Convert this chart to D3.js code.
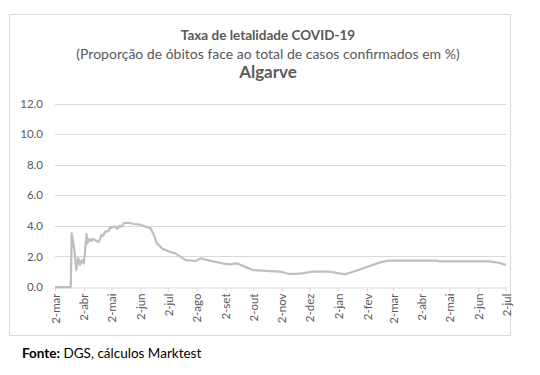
<!DOCTYPE html>
<html>
<head>
<meta charset="utf-8">
<script src="https://cdn.jsdelivr.net/npm/d3@7"></script>
<style>
  body { margin: 0; background: #fff; }
  text { font-family: Lato, "Open Sans", sans-serif; }
</style>
</head>
<body>
<div id="chart"></div>
<script>
// valores (data, taxa %)
const dates = [
  "2020-03-02","2020-03-19","2020-03-20","2020-03-23","2020-03-25","2020-03-27","2020-03-29",
  "2020-03-31","2020-04-02","2020-04-03","2020-04-05","2020-04-06","2020-04-08","2020-04-10",
  "2020-04-12","2020-04-14","2020-04-18","2020-04-20","2020-04-21","2020-04-23","2020-04-25",
  "2020-04-29","2020-04-30","2020-05-04","2020-05-06","2020-05-08","2020-05-11","2020-05-13",
  "2020-05-16","2020-05-21","2020-05-26","2020-06-02","2020-06-10","2020-06-13","2020-06-16",
  "2020-06-20","2020-06-26","2020-07-04","2020-07-10","2020-07-15","2020-07-21","2020-08-01",
  "2020-08-06","2020-08-16","2020-08-30","2020-09-07","2020-09-14","2020-09-23","2020-10-02",
  "2020-10-16","2020-10-31","2020-11-07","2020-11-10","2020-11-21","2020-12-06","2020-12-24",
  "2020-12-31","2021-01-09","2021-01-18","2021-02-01","2021-02-16","2021-02-25","2021-04-19",
  "2021-04-21","2021-06-14","2021-06-23","2021-07-02"
];
const rates = [
  0, 0, 3.5, 2.4, 1.1, 1.9, 1.45,
  1.75, 1.55, 2.0, 3.45, 2.85, 3.15, 3.0,
  3.15, 3.07, 2.95, 3.2, 3.4, 3.35, 3.6,
  3.65, 3.85, 3.95, 3.95, 3.8, 4.0, 3.95,
  4.2, 4.2, 4.12, 4.08, 3.9, 3.85, 3.5,
  2.85, 2.5, 2.3, 2.2, 2.0, 1.76, 1.7,
  1.87, 1.72, 1.55, 1.48, 1.55, 1.33, 1.1,
  1.05, 1.0, 0.9, 0.85, 0.87, 1.0, 1.0,
  0.93, 0.83, 1.0, 1.29, 1.61, 1.72, 1.72,
  1.68, 1.68, 1.6, 1.45
];
const yTicks = [0, 2, 4, 6, 8, 10, 12];
const monthNames = ["jan","fev","mar","abr","mai","jun","jul","ago","set","out","nov","dez"];

const W = 540, H = 375;
const parse = d3.timeParse("%Y-%m-%d");
const data = dates.map((d, i) => ({date: parse(d), v: rates[i]}));

const svg = d3.select("#chart").append("svg")
  .attr("width", W).attr("height", H);

// moldura
svg.append("rect")
  .attr("x", 9.5).attr("y", 14.5).attr("width", 501).attr("height", 321)
  .attr("fill", "#fff").attr("stroke", "#d9d9d9");

const x = d3.scaleTime()
  .domain([parse("2020-03-02"), parse("2021-07-02")])
  .range([55, 506]);
const y = d3.scaleLinear().domain([0, 12]).range([287, 103.5]);

// títulos
svg.append("text").attr("x", 268).attr("y", 40)
  .attr("text-anchor", "middle").attr("font-size", 13.5).attr("font-weight", "bold")
  .attr("fill", "#595959").text("Taxa de letalidade COVID-19");
svg.append("text").attr("x", 268).attr("y", 58.5)
  .attr("text-anchor", "middle").attr("font-size", 14)
  .attr("fill", "#595959").text("(Proporção de óbitos face ao total de casos confirmados em %)");
svg.append("text").attr("x", 268).attr("y", 78)
  .attr("text-anchor", "middle").attr("font-size", 17).attr("font-weight", "bold")
  .attr("fill", "#595959").text("Algarve");

// grelha
svg.append("g").selectAll("line").data(yTicks.filter(d => d > 0)).enter()
  .append("line")
  .attr("x1", 55).attr("x2", 506)
  .attr("y1", d => Math.round(y(d)) + 0.5).attr("y2", d => Math.round(y(d)) + 0.5)
  .attr("stroke", "#d9d9d9");

// eixo y
const yAxis = svg.append("g").attr("transform", "translate(43,0)")
  .call(d3.axisLeft(y).tickValues(yTicks).tickSize(0).tickPadding(0).tickFormat(d3.format(".1f")));
yAxis.select(".domain").remove();
yAxis.selectAll("text").attr("font-size", 11.5).attr("fill", "#595959")
  .attr("font-family", "Lato, 'Open Sans', sans-serif");

// eixo x
const months = d3.timeMonth.range(parse("2020-03-01"), parse("2021-07-03")).map(d => d3.timeDay.offset(d, 1));
const xAxis = svg.append("g").attr("transform", "translate(0,287.5)")
  .call(d3.axisBottom(x).tickValues(months).tickSize(4).tickSizeOuter(0)
    .tickFormat(d => d.getDate() + "-" + monthNames[d.getMonth()]));
xAxis.select(".domain").attr("stroke", "#d9d9d9");
xAxis.selectAll(".tick line").attr("stroke", "#d9d9d9");
xAxis.selectAll("text")
  .attr("font-size", 11.5).attr("fill", "#595959")
  .attr("font-family", "Lato, 'Open Sans', sans-serif")
  .attr("text-anchor", "end")
  .attr("transform", "rotate(-90)")
  .attr("x", -6).attr("y", 0).attr("dy", "0.35em");

// linha
svg.append("path").datum(data)
  .attr("fill", "none")
  .attr("stroke", "#bfbfbf")
  .attr("stroke-width", 2.25)
  .attr("stroke-linejoin", "round")
  .attr("d", d3.line().x(d => x(d.date)).y(d => y(d.v)));

// fonte
const src = svg.append("text").attr("x", 22).attr("y", 358).attr("font-size", 13.5).attr("fill", "#000");
src.append("tspan").attr("font-weight", "bold").text("Fonte:");
src.append("tspan").text(" DGS, cálculos Marktest");
</script>
</body>
</html>
